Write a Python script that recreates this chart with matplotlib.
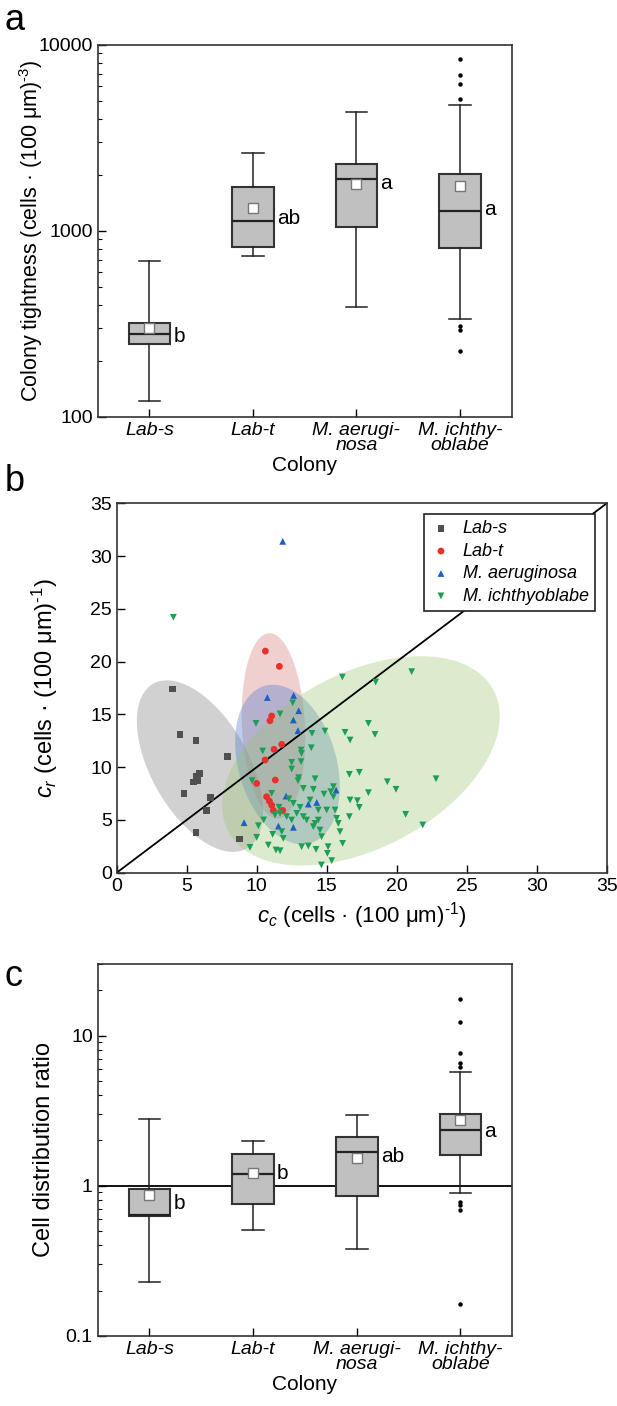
import matplotlib
matplotlib.use("Agg")
import matplotlib.pyplot as plt
from matplotlib.patches import Ellipse
import numpy as np

plt.rcParams['font.family'] = ['Liberation Sans', 'DejaVu Sans']
plt.rcParams['font.size'] = 14
plt.rcParams['mathtext.fontset'] = 'custom'
plt.rcParams['mathtext.rm'] = 'Liberation Sans'
plt.rcParams['mathtext.it'] = 'Liberation Sans:italic'

## categories
colonies = ["Lab-s", "Lab-t", "M. aerugi-\nnosa", "M. ichthy-\noblabe"]

## panel a: colony tightness box stats
a_whislo = [121, 732, 391, 335]
a_q1 = [245, 822, 1053, 805]
a_med = [277, 1125, 1894, 1273]
a_q3 = [319, 1714, 2291, 2030]
a_whishi = [691, 2624, 4360, 4735]
a_mean = [301, 1321, 1786, 1736]
a_fliers = [[], [], [], [8440, 6925, 6145, 5145, 308, 293, 226]]
a_letters = ["b", "ab", "a", "a"]
a_letter_y = [271, 1167, 1802, 1295]

## panel c: cell distribution ratio box stats
c_whislo = [0.228, 0.505, 0.377, 0.896]
c_q1 = [0.629, 0.76, 0.847, 1.607]
c_med = [0.635, 1.187, 1.67, 2.33]
c_q3 = [0.948, 1.62, 2.11, 3.0]
c_whishi = [2.77, 1.99, 2.97, 5.69]
c_mean = [0.864, 1.22, 1.53, 2.72]
c_fliers = [[], [], [], [17.5, 12.4, 7.7, 6.6, 6.2, 0.78, 0.74, 0.69, 0.163]]
c_letters = ["b", "b", "ab", "a"]
c_letter_y = [0.76, 1.2, 1.56, 2.28]

## panel b: scatter data
labs_x = [3.98, 4.52, 5.67, 7.93, 5.9, 5.7, 5.5, 5.8, 4.81, 6.71, 6.43, 5.67, 8.76]
labs_y = [17.4, 13.1, 12.5, 11.0, 9.4, 9.1, 8.6, 8.7, 7.5, 7.1, 5.9, 3.8, 3.2]
labt_x = [10.62, 11.62, 11.07, 10.95, 11.79, 11.24, 10.6, 11.33, 10.0, 10.71, 10.9, 11.07, 11.19, 11.86]
labt_y = [21.0, 19.55, 14.85, 14.4, 12.16, 11.69, 10.68, 8.78, 8.46, 7.2, 6.8, 6.4, 5.9, 5.9]
maer_x = [11.86, 10.76, 12.64, 13.0, 12.62, 12.95, 12.1, 15.67, 14.29, 13.69, 9.1, 11.55, 12.62]
maer_y = [31.4, 16.6, 16.8, 15.35, 14.47, 13.46, 7.26, 7.83, 6.66, 6.5, 4.74, 4.42, 4.3]
mich_x = [4.05, 16.12, 18.5, 21.07, 11.67, 12.57, 9.95, 13.95, 14.88, 16.31, 17.98, 18.45,
          16.67, 13.9, 13.17, 13.2, 10.43, 12.5, 13.17, 12.5, 16.62, 17.33, 19.33, 19.95,
          22.81, 12.95, 14.17, 9.67, 13.33, 14.05, 11.07, 14.81, 15.29, 15.48, 15.48, 17.98,
          16.67, 17.19, 17.33, 16.62, 20.64, 21.86, 12.62, 13.1, 13.81, 14.4, 15.0, 15.6,
          15.71, 15.83, 15.95, 16.14, 15.1, 15.05, 15.36, 14.62, 14.24, 13.69, 13.21, 11.67,
          11.38, 10.83, 9.52, 10.0, 10.12, 11.14, 11.9, 11.79, 12.14, 12.5, 12.86, 11.67,
          11.31, 13.57, 14.17, 14.52, 14.64, 14.05, 14.4, 13.33, 11.6, 12.3, 13.0, 10.5]
mich_y = [24.2, 18.54, 18.07, 19.05, 15.04, 16.1, 14.15, 13.2, 13.42, 13.3, 14.15, 13.1,
          12.57, 11.84, 11.62, 11.3, 11.53, 10.45, 10.52, 9.82, 9.32, 9.51, 8.62, 7.9,
          8.9, 8.72, 8.9, 8.72, 7.99, 7.9, 7.52, 7.45, 7.68, 8.15, 7.2, 7.58,
          6.89, 6.82, 6.19, 5.31, 5.53, 4.52, 6.57, 6.19, 6.89, 5.94, 5.94, 5.94,
          5.15, 4.67, 3.89, 2.78, 2.46, 1.83, 1.14, 0.73, 2.21, 2.53, 2.46, 2.08,
          2.15, 2.62, 2.4, 3.35, 4.45, 3.63, 3.25, 3.89, 5.31, 4.99, 5.62, 5.62,
          5.46, 4.99, 4.67, 4.04, 3.41, 4.36, 4.99, 5.31, 6.2, 7.0, 9.0, 5.0]
# ellipse params: center x, center y, width, height, angle
ell_params = [(5.95, 10.1, 17.1, 7.3, 110), (11.2, 13.9, 17.6, 4.5, 92),
              (12.2, 10.25, 15.3, 7.1, 100), (17.45, 10.6, 23.7, 15.0, 45)]
series_names = ["Lab-s", "Lab-t", "M. aeruginosa", "M. ichthyoblabe"]
marker_colors = ["#505050", "#e8302c", "#1f5fc4", "#1e9e55"]
ell_colors = ["#8c8c8c", "#d47878", "#5c82cd", "#9bc670"]
ell_alpha = [0.4, 0.35, 0.4, 0.35]
markers = ["s", "o", "^", "v"]

fig = plt.figure(figsize=(6.17, 14.06), dpi=100)


def boxpanel(ax, whislo, q1, med, q3, whishi, mean, fliers, letters, letter_y, ylabel, ylim, ylsize):
    stats = []
    for i in range(4):
        stats.append(dict(whislo=whislo[i], q1=q1[i], med=med[i], q3=q3[i],
                          whishi=whishi[i], mean=mean[i], fliers=fliers[i]))
    ax.bxp(stats, positions=[1, 2, 3, 4], widths=0.4, patch_artist=True, showmeans=True,
           boxprops=dict(facecolor="#c0c0c0", edgecolor="#333333", linewidth=1.5),
           medianprops=dict(color="#222222", linewidth=1.6),
           whiskerprops=dict(color="#222222", linewidth=1.1),
           capprops=dict(color="#222222", linewidth=1.1),
           capwidths=0.21,
           meanprops=dict(marker="s", markerfacecolor="white", markeredgecolor="#777777",
                          markersize=6.5, markeredgewidth=1),
           flierprops=dict(marker="o", markerfacecolor="black", markeredgecolor="black",
                           markersize=2.2, linestyle="none"))
    for i in range(4):
        ax.text(i + 1 + 0.23, letter_y[i], letters[i], ha="left", va="center", fontsize=15)
    ax.set_yscale("log")
    ax.set_ylim(*ylim)
    ax.set_xlim(0.5, 4.5)
    ax.set_xticks([1, 2, 3, 4])
    ax.set_xticklabels(colonies, style="italic", linespacing=0.85, fontsize=13.5)
    ax.set_xlabel("Colony", labelpad=2, fontsize=15)
    ax.set_ylabel(ylabel, fontsize=ylsize)
    ax.tick_params(direction="in", which="both", right=False, top=False)
    ax.tick_params(which="major", length=6, width=1, labelsize=14)
    ax.tick_params(which="minor", length=3, width=0.8)
    ax.yaxis.set_major_formatter(matplotlib.ticker.FuncFormatter(lambda v, p: "%g" % v))
    for s in ax.spines.values():
        s.set_linewidth(1.2)
        s.set_color("#333333")


axa = fig.add_axes([0.1583, 0.7036, 0.671, 0.2644])
boxpanel(axa, a_whislo, a_q1, a_med, a_q3, a_whishi, a_mean, a_fliers, a_letters, a_letter_y,
         r"Colony tightness (cells · (100 μm)$^{\text{-3}}$)", (100, 10000), 15.5)
axa.yaxis.set_label_coords(-0.127, 0.5)

axc = fig.add_axes([0.1583, 0.05, 0.672, 0.2644])
axc.axhline(1, color="black", linewidth=1.3, zorder=0.5)
boxpanel(axc, c_whislo, c_q1, c_med, c_q3, c_whishi, c_mean, c_fliers, c_letters, c_letter_y,
         "Cell distribution ratio", (0.1, 30), 17)
axc.yaxis.set_label_coords(-0.103, 0.5)

## panel b
axb = fig.add_axes([0.1891, 0.3793, 0.7942, 0.2627])
for (cx, cy, w, h, ang), col, al in zip(ell_params, ell_colors, ell_alpha):
    axb.add_patch(Ellipse((cx, cy), w, h, angle=ang, facecolor=col, edgecolor="none",
                          alpha=al, zorder=1))
axb.plot([0, 35], [0, 35], color="black", linewidth=1.3, zorder=2)
xs = [labs_x, labt_x, maer_x, mich_x]
ys = [labs_y, labt_y, maer_y, mich_y]
for i in range(4):
    axb.scatter(xs[i], ys[i], marker=markers[i], s=24, color=marker_colors[i],
                edgecolors="none", label=series_names[i], zorder=3)
axb.set_xlim(0, 35)
axb.set_ylim(0, 35)
axb.set_xticks(np.arange(0, 36, 5))
axb.set_yticks(np.arange(0, 36, 5))
axb.tick_params(direction="in", length=6, width=1, right=False, top=False, labelsize=14)
axb.set_xlabel(r"$c_c$ (cells · (100 μm)$^{\text{-1}}$)", labelpad=4, fontsize=16)
axb.set_ylabel(r"$c_r$ (cells · (100 μm)$^{\text{-1}}$)", fontsize=17)
axb.yaxis.set_label_coords(-0.116, 0.5)
for s in axb.spines.values():
    s.set_linewidth(1.2)
    s.set_color("#333333")
leg = axb.legend(loc="upper right", bbox_to_anchor=(0.976, 0.971), borderaxespad=0,
                 fancybox=False, framealpha=1, edgecolor="#222222",
                 prop=dict(style="italic", size=13), handletextpad=0.6,
                 borderpad=0.35, labelspacing=0.3, handlelength=1.2)
leg.get_frame().set_linewidth(1.2)
leg.set_zorder(5)

fig.text(0.008, 0.998, "a", fontsize=26, va="top", ha="left")
fig.text(0.008, 0.670, "b", fontsize=26, va="top", ha="left")
fig.text(0.008, 0.318, "c", fontsize=26, va="top", ha="left")

fig.savefig("out.png", dpi=100)
